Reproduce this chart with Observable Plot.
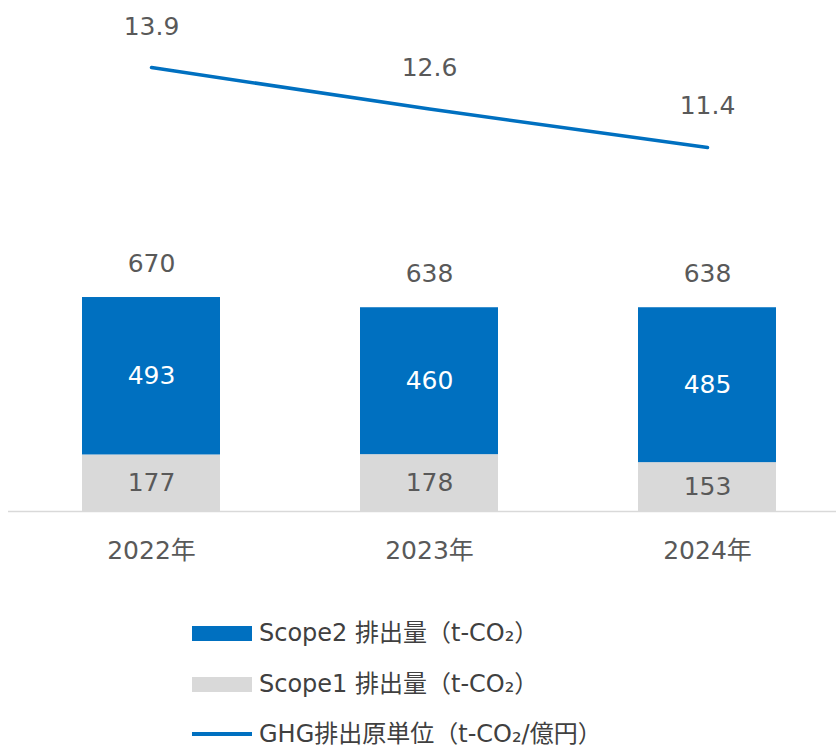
<!DOCTYPE html>
<html>
<head>
<meta charset="utf-8">
<script src="https://cdn.jsdelivr.net/npm/d3@7"></script>
<script src="https://cdn.jsdelivr.net/npm/@observablehq/plot@0.6"></script>
<style>
  body { margin: 0; background: #fff; font-family: "DejaVu Sans", "Noto Sans CJK JP", sans-serif; color: #595959; }
  #chart svg { display: block; }
  .legend { position: relative; height: 161px; }
  .row { position: absolute; left: 192px; display: flex; align-items: center; font-size: 24px; line-height: 24px; color: #404040; white-space: nowrap; }
  .row span { line-height: 24px; }
  .sw { width: 60px; margin-right: 7px; }
</style>
</head>
<body>
<div id="chart"></div>
<div class="legend" id="legend"></div>
<script>
const years = ["2022年", "2023年", "2024年"];
const scope1 = [177, 178, 153];
const scope2 = [493, 460, 485];
const totals = [670, 638, 638];
const intensity = [13.9, 12.6, 11.4];
const seriesNames = ["Scope2 排出量（t-CO₂）", "Scope1 排出量（t-CO₂）", "GHG排出原単位（t-CO₂/億円）"];
const blue = "#0070C0", gray = "#D9D9D9", textColor = "#595959";
// secondary axis (intensity) shares the zero baseline: 1 unit = 100 t-CO2 on the primary scale
const secondaryFactor = 100;

const rows = [];
years.forEach((y, i) => {
  rows.push({year: y, series: "Scope1", value: scope1[i]});
  rows.push({year: y, series: "Scope2", value: scope2[i]});
});
const idx = years.map((_, i) => i);
const fs = 25;

const chart = Plot.plot({
  width: 836,
  height: 590,
  marginLeft: 8,
  marginRight: 0,
  marginTop: 0,
  marginBottom: 79,
  style: {fontFamily: "'DejaVu Sans', 'Noto Sans CJK JP', sans-serif", fontSize: fs + "px", color: textColor, background: "#fff"},
  x: {domain: years, paddingInner: 0.505, paddingOuter: 0.2365, align: 0.553, label: null},
  y: {domain: [0, 1600], axis: null},
  color: {domain: ["Scope2", "Scope1"], range: [blue, gray]},
  marks: [
    Plot.barY(rows, {x: "year", y: "value", fill: "series"}),
    Plot.ruleY([0], {stroke: "#D9D9D9", strokeWidth: 1.5}),
    Plot.text(rows, Plot.stackY({x: "year", y: "value", text: "value",
      fill: d => d.series === "Scope2" ? "#ffffff" : textColor, fontSize: fs})),
    Plot.text(idx, {x: i => years[i], y: i => totals[i], text: i => String(totals[i]), dy: -34, fill: textColor, fontSize: fs}),
    Plot.line(idx, {x: i => years[i], y: i => intensity[i] * secondaryFactor, stroke: blue, strokeWidth: 3.5}),
    Plot.text(idx, {x: i => years[i], y: i => intensity[i] * secondaryFactor, text: i => intensity[i].toFixed(1), dy: -41, fill: textColor, fontSize: fs}),
    Plot.axisX({tickSize: 0, tickPadding: 30, fontSize: fs, fill: textColor})
  ]
});
document.getElementById("chart").append(chart);

const legend = document.getElementById("legend");
const items = [
  {name: seriesNames[0], type: "bar", color: blue, top: 43},
  {name: seriesNames[1], type: "bar", color: gray, top: 94},
  {name: seriesNames[2], type: "line", color: blue, top: 144}
];
items.forEach(it => {
  const r = document.createElement("div");
  r.className = "row";
  r.style.top = (it.top - 13) + "px";
  r.style.height = "26px";
  const sw = document.createElement("div");
  sw.className = "sw";
  sw.style.height = it.type === "bar" ? "15px" : "4px";
  sw.style.background = it.color;
  const t = document.createElement("span");
  t.textContent = it.name;
  r.append(sw, t);
  legend.append(r);
});
</script>
</body>
</html>
